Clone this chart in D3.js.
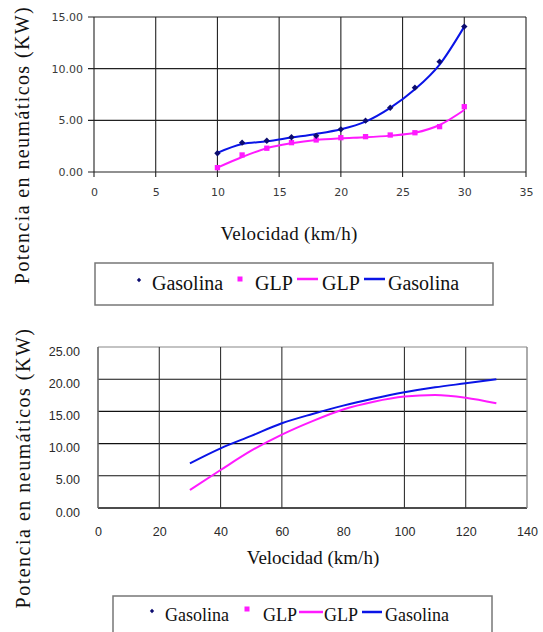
<!DOCTYPE html>
<html lang="es">
<head>
  <meta charset="UTF-8">
  <title>Potencia en neumáticos vs Velocidad</title>
  <script src="https://d3js.org/d3.v7.min.js"></script>
  <style>
    body { margin: 0; background: white; }
    .tick1 text { font-family: "DejaVu Sans", Verdana, sans-serif; font-size: 11px; fill: #3a3a3a; }
    .tick2 text { font-family: "Liberation Sans", Arial, sans-serif; font-size: 12.5px; fill: #2a2a2a; }
  </style>
</head>
<body>
  <svg id="chart" width="543" height="632"></svg>

  <script>
    // Top chart: measured points and trend lines
    const topX = [10, 12, 14, 16, 18, 20, 22, 24, 26, 28, 30];
    const topGasolina = [1.81, 2.84, 3.03, 3.36, 3.5, 4.13, 4.97, 6.22, 8.16, 10.68, 14.07];
    const topGLP = [0.42, 1.65, 2.3, 2.84, 3.1, 3.32, 3.42, 3.58, 3.8, 4.39, 6.32];
    const topGasolinaTrend = [1.85, 2.7, 2.97, 3.33, 3.68, 4.13, 4.87, 6.2, 8.0, 10.4, 14.07];
    const topGLPTrend = [0.42, 1.45, 2.3, 2.78, 3.1, 3.26, 3.36, 3.52, 3.8, 4.55, 6.0];
    const topXTicks = [0, 5, 10, 15, 20, 25, 30, 35];
    const topYTicks = [0, 5, 10, 15];

    // Bottom chart: trend lines only
    const bottomX = [30, 40, 50, 60, 70, 80, 90, 100, 110, 120, 130];
    const bottomGasolina = [6.94, 9.27, 11.2, 13.15, 14.6, 15.9, 17.0, 17.96, 18.74, 19.36, 19.98];
    const bottomGLP = [2.8, 5.9, 8.9, 11.4, 13.5, 15.3, 16.5, 17.3, 17.55, 17.13, 16.25];
    const bottomXTicks = [0, 20, 40, 60, 80, 100, 120, 140];
    const bottomGridX = [20, 40, 60, 100, 120];
    const bottomYTicks = [0, 5, 10, 15, 20, 25];

    const legendItems = ["Gasolina", "GLP", "GLP", "Gasolina"];

    const BLUE = "#0a14e6", MAGENTA = "#ff1aff", NAVY = "#0c0c70";
    const SERIF = '"Liberation Serif", "Times New Roman", serif';
    const svg = d3.select("#chart");

    function serifText(parent, size, spacing) {
      return parent.append("text")
        .attr("font-family", SERIF)
        .attr("font-size", size)
        .attr("letter-spacing", spacing || 0)
        .attr("fill", "#111");
    }

    // ---------- top chart ----------
    const x1 = d3.scaleLinear().domain([0, 35]).range([94, 526]);
    const y1 = d3.scaleLinear().domain([0, 15]).range([172, 17]);

    const g1 = svg.append("g");
    g1.selectAll("line.hgrid").data(topYTicks).enter().append("line")
      .attr("x1", 88).attr("x2", x1(35))
      .attr("y1", d => y1(d)).attr("y2", d => y1(d))
      .attr("stroke", "#222").attr("stroke-width", 1.1);
    g1.selectAll("line.vgrid").data(topXTicks).enter().append("line")
      .attr("x1", d => x1(d)).attr("x2", d => x1(d))
      .attr("y1", y1(15)).attr("y2", y1(0) + 5)
      .attr("stroke", "#222").attr("stroke-width", 1.1);

    g1.append("g").attr("class", "tick1")
      .attr("transform", "translate(0," + y1(0) + ")")
      .call(d3.axisBottom(x1).tickValues(topXTicks).tickSize(0).tickPadding(16).tickFormat(d3.format("d")))
      .call(a => a.select(".domain").remove());
    g1.append("g").attr("class", "tick1")
      .attr("transform", "translate(" + 83 + ",0)")
      .call(d3.axisLeft(y1).tickValues(topYTicks).tickSize(0).tickPadding(0).tickFormat(d3.format(".2f")))
      .call(a => a.select(".domain").remove());

    const line1 = d3.line().x(d => x1(d[0])).y(d => y1(d[1])).curve(d3.curveMonotoneX);
    g1.append("path").datum(d3.zip(topX, topGLPTrend)).attr("d", line1)
      .attr("fill", "none").attr("stroke", MAGENTA).attr("stroke-width", 2);
    g1.append("path").datum(d3.zip(topX, topGasolinaTrend)).attr("d", line1)
      .attr("fill", "none").attr("stroke", BLUE).attr("stroke-width", 2);

    g1.selectAll("path.sq").data(d3.zip(topX, topGLP)).enter().append("path")
      .attr("d", d3.symbol(d3.symbolSquare, 28))
      .attr("transform", d => "translate(" + x1(d[0]) + "," + y1(d[1]) + ")")
      .attr("fill", MAGENTA);
    g1.selectAll("path.dm").data(d3.zip(topX, topGasolina)).enter().append("path")
      .attr("d", d3.symbol(d3.symbolDiamond2, 26))
      .attr("transform", d => "translate(" + x1(d[0]) + "," + y1(d[1]) + ")")
      .attr("fill", NAVY);

    serifText(g1, 19, 0.3)
      .attr("x", 289).attr("y", 240).attr("text-anchor", "middle")
      .text("Velocidad (km/h)");
    serifText(g1, 20, 1.4)
      .attr("transform", "translate(29,145) rotate(-90)").attr("text-anchor", "middle")
      .text("Potencia en neumáticos (KW)");

    // ---------- bottom chart ----------
    const x2 = d3.scaleLinear().domain([0, 140]).range([98, 527]);
    const y2 = d3.scaleLinear().domain([0, 25]).range([508, 347]);

    const g2 = svg.append("g");
    g2.selectAll("line.hgrid").data(bottomYTicks).enter().append("line")
      .attr("x1", x2(0)).attr("x2", x2(140))
      .attr("y1", d => y2(d)).attr("y2", d => y2(d))
      .attr("stroke", d => d === 25 ? "#888" : "#111").attr("stroke-width", d => d === 0 ? 1.5 : 1.1);
    g2.selectAll("line.vgrid").data(bottomGridX).enter().append("line")
      .attr("x1", d => x2(d)).attr("x2", d => x2(d))
      .attr("y1", y2(25)).attr("y2", y2(0))
      .attr("stroke", "#333").attr("stroke-width", 1.1);
    g2.append("line").attr("x1", x2(0)).attr("x2", x2(0)).attr("y1", y2(25)).attr("y2", y2(0))
      .attr("stroke", "#666").attr("stroke-width", 1.6);
    g2.append("line").attr("x1", x2(140)).attr("x2", x2(140)).attr("y1", y2(25)).attr("y2", y2(0))
      .attr("stroke", "#888").attr("stroke-width", 1.4);

    g2.append("g").attr("class", "tick2")
      .attr("transform", "translate(0," + y2(0) + ")")
      .call(d3.axisBottom(x2).tickValues(bottomXTicks).tickSize(0).tickPadding(19).tickFormat(d3.format("d")))
      .call(a => a.select(".domain").remove());
    g2.append("g").attr("class", "tick2")
      .attr("transform", "translate(" + 80 + ",4)")
      .call(d3.axisLeft(y2).tickValues(bottomYTicks).tickSize(0).tickPadding(0).tickFormat(d3.format(".2f")))
      .call(a => a.select(".domain").remove());

    const line2 = d3.line().x(d => x2(d[0])).y(d => y2(d[1])).curve(d3.curveMonotoneX);
    g2.append("path").datum(d3.zip(bottomX, bottomGLP)).attr("d", line2)
      .attr("fill", "none").attr("stroke", MAGENTA).attr("stroke-width", 2);
    g2.append("path").datum(d3.zip(bottomX, bottomGasolina)).attr("d", line2)
      .attr("fill", "none").attr("stroke", BLUE).attr("stroke-width", 2);

    serifText(g2, 19, 0)
      .attr("x", 313).attr("y", 564).attr("text-anchor", "middle")
      .text("Velocidad (km/h)");
    serifText(g2, 20, 1.5)
      .attr("transform", "translate(30,468) rotate(-90)").attr("text-anchor", "middle")
      .text("Potencia en neumáticos (KW)");

    // ---------- legends ----------
    function legend(box, pos, fs) {
      const lg = svg.append("g");
      lg.append("rect").attr("x", box[0]).attr("y", box[1]).attr("width", box[2]).attr("height", box[3])
        .attr("fill", "white").attr("stroke", "#777").attr("stroke-width", 1.5);
      lg.append("path").attr("d", d3.symbol(d3.symbolDiamond2, 12))
        .attr("transform", "translate(" + pos.diamond[0] + "," + pos.diamond[1] + ")").attr("fill", NAVY);
      lg.append("rect").attr("x", pos.square[0] - 2.5).attr("y", pos.square[1] - 2.5)
        .attr("width", 5).attr("height", 5).attr("fill", MAGENTA);
      lg.append("line").attr("x1", pos.mline[0]).attr("x2", pos.mline[1]).attr("y1", pos.mline[2]).attr("y2", pos.mline[2])
        .attr("stroke", MAGENTA).attr("stroke-width", 2.5);
      lg.append("line").attr("x1", pos.bline[0]).attr("x2", pos.bline[1]).attr("y1", pos.bline[2]).attr("y2", pos.bline[2])
        .attr("stroke", BLUE).attr("stroke-width", 2.5);
      legendItems.forEach((d, i) => {
        serifText(lg, fs, 0).attr("x", pos.texts[i]).attr("y", pos.baseline).text(d);
      });
    }

    legend([95, 263, 398, 42], {
      diamond: [139, 280], square: [240, 279], mline: [297, 318, 279], bline: [364, 385, 279],
      texts: [152, 255, 322, 388], baseline: 290
    }, 20);
    legend([113, 596, 379, 40], {
      diamond: [152, 611], square: [247, 609], mline: [299, 323, 612], bline: [362, 382, 612],
      texts: [165, 263, 324, 385], baseline: 621
    }, 18);
  </script>
</body>
</html>
